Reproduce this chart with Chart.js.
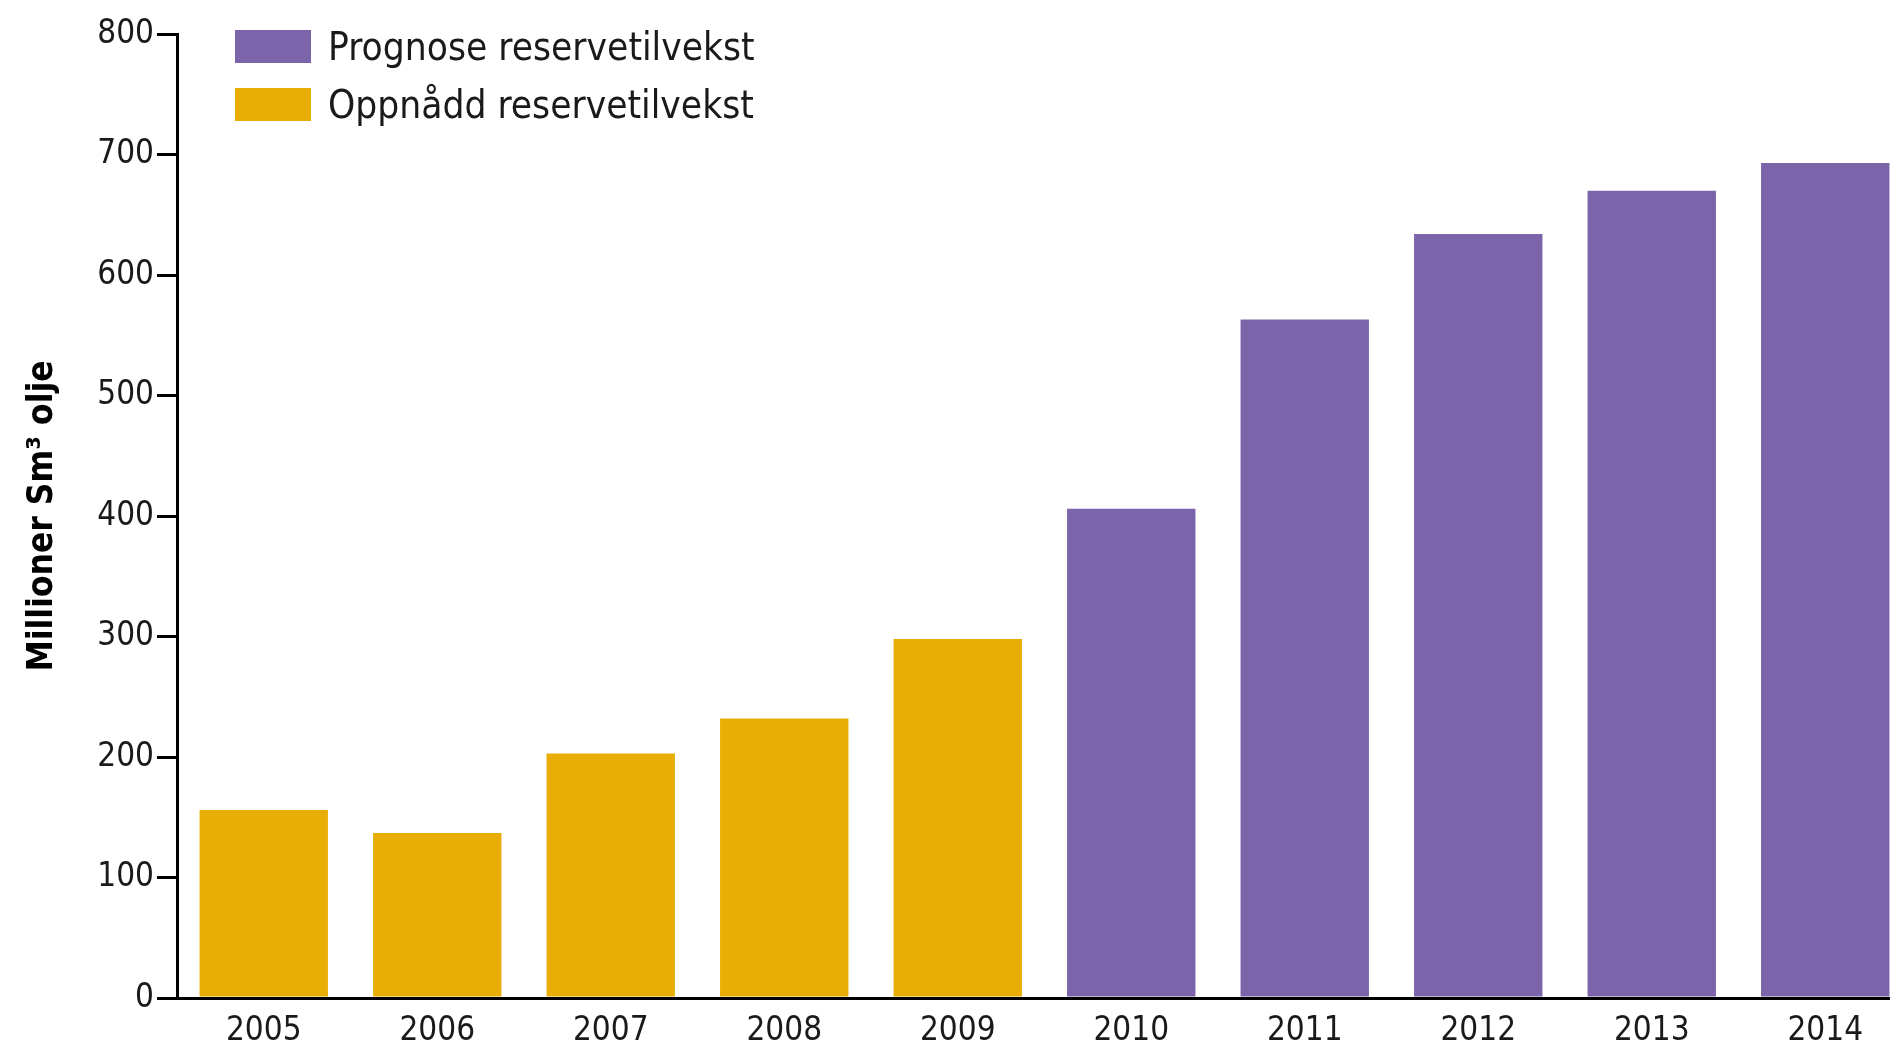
<!DOCTYPE html>
<html lang="no">
<head>
    <meta charset="UTF-8">
    <title>Reservetilvekst olje</title>
    <script src="https://cdn.jsdelivr.net/npm/chart.js"></script>
    <style>
        body {
            margin: 0;
            background: #ffffff;
            overflow: hidden;
            font-family: "DejaVu Sans Condensed", "Liberation Sans Narrow", sans-serif;
        }
        #wrap {
            position: relative;
            width: 1912px;
            height: 1049px;
        }
        #legend {
            position: absolute;
            left: 235px;
            top: 22px;
            font-size: 38.5px;
            color: #1a1a1a;
        }
        .item {
            display: flex;
            align-items: center;
            height: 48px;
            margin-bottom: 10px;
        }
        .box {
            width: 76px;
            height: 33px;
            margin-right: 17px;
        }
    </style>
</head>
<body>
    <div id="wrap">
        <canvas id="reserveChart" width="1912" height="1049"></canvas>
        <div id="legend"></div>
    </div>

    <script>
        // data
        const years = ['2005', '2006', '2007', '2008', '2009', '2010', '2011', '2012', '2013', '2014'];
        const achieved = [156, 137, 203, 232, 298, null, null, null, null, null];
        const forecast = [null, null, null, null, null, 406, 563, 634, 670, 693];
        const seriesNames = ['Prognose reservetilvekst', 'Oppnådd reservetilvekst'];
        const seriesColors = ['#7B64A9', '#E9AE06'];
        const yTicks = [0, 100, 200, 300, 400, 500, 600, 700, 800];

        const fontFamily = '"DejaVu Sans Condensed", "Liberation Sans Narrow", sans-serif';

        // simple html legend, same order as the original
        const legendEl = document.getElementById('legend');
        seriesNames.forEach((name, i) => {
            const row = document.createElement('div');
            row.className = 'item';
            const box = document.createElement('span');
            box.className = 'box';
            box.style.background = seriesColors[i];
            const txt = document.createElement('span');
            txt.textContent = name;
            row.appendChild(box);
            row.appendChild(txt);
            legendEl.appendChild(row);
        });

        const ctx = document.getElementById('reserveChart').getContext('2d');
        new Chart(ctx, {
            type: 'bar',
            data: {
                labels: years,
                datasets: [
                    {
                        label: seriesNames[0],
                        data: forecast,
                        backgroundColor: seriesColors[0]
                    },
                    {
                        label: seriesNames[1],
                        data: achieved,
                        backgroundColor: seriesColors[1]
                    }
                ]
            },
            options: {
                responsive: false,
                devicePixelRatio: 1,
                animation: false,
                layout: { padding: { top: 34, right: 0, bottom: 0, left: 0 } },
                datasets: {
                    bar: { categoryPercentage: 0.74, barPercentage: 1 }
                },
                scales: {
                    x: {
                        stacked: true,
                        grid: { display: false, drawTicks: false },
                        border: { display: true, color: '#000000', width: 3 },
                        ticks: {
                            color: '#1a1a1a',
                            padding: 14,
                            font: { family: fontFamily, size: 33 }
                        },
                        afterFit: scale => { scale.height = 51; }
                    },
                    y: {
                        stacked: true,
                        min: 0,
                        max: 800,
                        afterBuildTicks: scale => {
                            scale.ticks = yTicks.map(v => ({ value: v }));
                        },
                        grid: {
                            drawOnChartArea: false,
                            drawTicks: true,
                            tickLength: 20,
                            color: '#000000',
                            lineWidth: 3
                        },
                        border: { display: true, color: '#000000', width: 3 },
                        ticks: {
                            color: '#1a1a1a',
                            padding: 3,
                            font: { family: fontFamily, size: 33 }
                        },
                        title: {
                            display: true,
                            text: 'Millioner Sm³ olje',
                            color: '#000000',
                            padding: { top: 22, bottom: 0 },
                            font: { family: fontFamily, size: 35, weight: 'bold' }
                        },
                        afterFit: scale => { scale.width = 177; }
                    }
                },
                plugins: {
                    legend: { display: false },
                    tooltip: { enabled: false }
                }
            }
        });
    </script>
</body>
</html>
